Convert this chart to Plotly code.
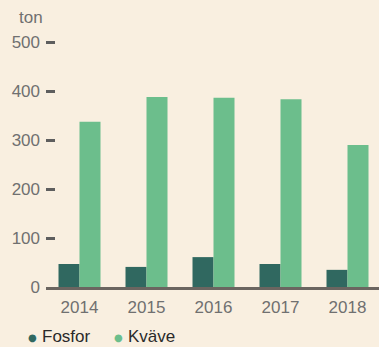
import plotly.graph_objects as go

# Annual loads (ton)
years = ["2014", "2015", "2016", "2017", "2018"]
fosfor = [47, 41, 61, 47, 35]
kvave = [337, 388, 386, 383, 290]
y_ticks = [0, 100, 200, 300, 400, 500]

BG = "#f9efe0"
FOSFOR_COLOR = "#306860"
KVAVE_COLOR = "#6cbe8c"
TICK_COLOR = "#707070"
FONT = "Liberation Sans, Arial, sans-serif"

W, H = 379, 347
M_L, M_R, M_T, M_B = 46, 0, 38, 60
plot_w = W - M_L - M_R
plot_h = H - M_T - M_B
cat_px = 67          # horizontal pixels per category
px_per_unit = 0.49   # vertical pixels per ton

fig = go.Figure()
fig.add_trace(go.Bar(x=years, y=fosfor, name="Fosfor", marker_color=FOSFOR_COLOR,
                     marker_line_width=0))
fig.add_trace(go.Bar(x=years, y=kvave, name="Kväve", marker_color=KVAVE_COLOR,
                     marker_line_width=0))

def px_x(p):
    return (p - M_L) / plot_w

def px_y(p):
    return (H - M_B - p) / plot_h

annotations = [
    dict(text="ton", xref="paper", yref="paper", x=px_x(17), y=px_y(18),
         xanchor="left", yanchor="middle", showarrow=False,
         font=dict(size=17, color=TICK_COLOR, family=FONT)),
]

# Legend row drawn beneath the axis, sitting on the bottom edge
legend_items = [("Fosfor", FOSFOR_COLOR, 32, 41), ("Kväve", KVAVE_COLOR, 118, 127)]
for label, color, dot_x, text_x in legend_items:
    annotations.append(dict(text="●", xref="paper", yref="paper", x=px_x(dot_x), y=px_y(337),
                            xanchor="center", yanchor="middle", showarrow=False, borderpad=0,
                            font=dict(size=10, color=color, family="DejaVu Sans")))
    annotations.append(dict(text=label, xref="paper", yref="paper", x=px_x(text_x), y=px_y(347),
                            xanchor="left", yanchor="bottom", showarrow=False, borderpad=0,
                            font=dict(size=17, color="#2a2a2a", family=FONT)))

fig.update_layout(
    width=W, height=H,
    margin=dict(l=M_L, r=M_R, t=M_T, b=M_B, pad=0),
    paper_bgcolor=BG, plot_bgcolor=BG,
    barmode="group", bargap=25 / 67, bargroupgap=0,
    showlegend=False,
    font=dict(family=FONT, size=17, color=TICK_COLOR),
    annotations=annotations,
    xaxis=dict(
        type="category",
        range=[-0.5, -0.5 + plot_w / cat_px],
        showgrid=False, zeroline=False,
        showline=True, linecolor="#6b6560", linewidth=3,
        ticks="", tickfont=dict(size=17, color=TICK_COLOR),
        ticklabelstandoff=3,
        fixedrange=True,
    ),
    yaxis=dict(
        range=[0, plot_h / px_per_unit],
        tickvals=y_ticks,
        showgrid=False, zeroline=False, showline=False,
        ticks="inside", ticklen=9, tickwidth=3, tickcolor="#5e5e5e",
        tickfont=dict(size=17, color=TICK_COLOR),
        ticklabelstandoff=5,
        fixedrange=True,
    ),
)

fig.write_html("out.html")
